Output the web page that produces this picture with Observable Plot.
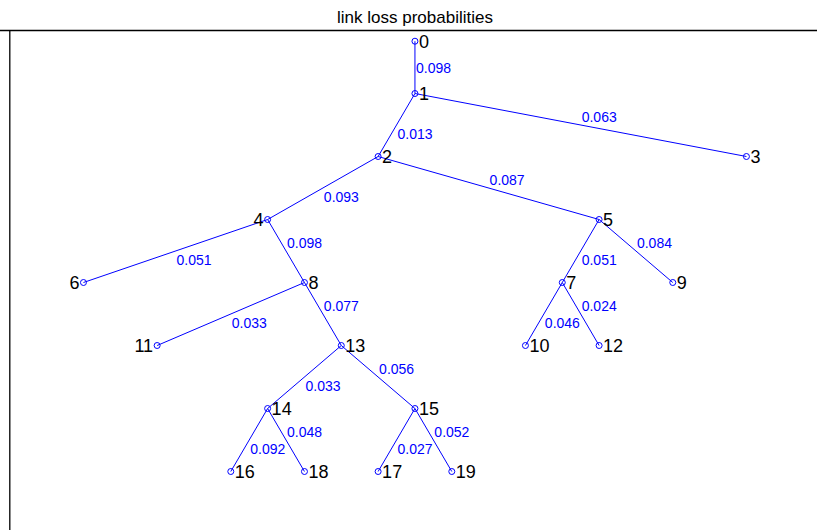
<!DOCTYPE html>
<html><head><meta charset="utf-8">
<script src="https://cdn.jsdelivr.net/npm/d3@7"></script>
<script src="https://cdn.jsdelivr.net/npm/@observablehq/plot@0.6"></script>
<style>
body{margin:0;background:#fff;overflow:hidden;font-family:"Liberation Sans",Arial,Helvetica,sans-serif;}
#title{position:absolute;top:8px;left:0;width:817px;padding-left:13px;box-sizing:border-box;text-align:center;font-size:17px;line-height:normal;color:#000;}
#chart{position:absolute;top:30px;left:0;}
</style></head><body>
<div id="title">link loss probabilities</div>
<div id="chart"></div>
<script>
// Tree nodes: horizontal slot and depth level
const nodeIds    = [0, 1, 2, 3, 4, 5, 6, 7, 8, 9, 10, 11, 12, 13, 14, 15, 16, 17, 18, 19];
const nodeX      = [9, 9, 8, 18, 5, 14, 0, 13, 6, 16, 12, 2, 14, 7, 5, 9, 4, 8, 6, 10];
const nodeLevel  = [0.17, 1, 2, 2, 3, 3, 4, 4, 4, 4, 5, 5, 5, 5, 6, 6, 7, 7, 7, 7];
const leftLabelNodes = [4, 6, 11];

// Links (parent -> child) and link loss probabilities
const edgeParent = [0, 1, 1, 2, 2, 4, 4, 8, 8, 13, 13, 5, 5, 7, 7, 14, 14, 15, 15];
const edgeChild  = [1, 2, 3, 4, 5, 6, 8, 11, 13, 14, 15, 7, 9, 10, 12, 16, 18, 17, 19];
const edgeLoss   = [0.098, 0.013, 0.063, 0.093, 0.087, 0.051, 0.098, 0.033, 0.077, 0.033, 0.056, 0.051, 0.084, 0.046, 0.024, 0.092, 0.048, 0.027, 0.052];

const nodes = nodeIds.map((id, i) => ({id, x: nodeX[i], y: nodeLevel[i], left: leftLabelNodes.includes(id)}));
const edges = edgeParent.map((p, i) => {
  const c = edgeChild[i];
  const x1 = nodeX[p], y1 = nodeLevel[p], x2 = nodeX[c], y2 = nodeLevel[c];
  return {x1, y1, x2, y2, xm: (x1 + x2) / 2, ym: (y1 + y2) / 2, loss: edgeLoss[i],
          dir: x2 < x1 ? "left" : x2 > x1 ? "right" : "down"};
});

const blue = "#0000ff";
const font = "'Liberation Sans', Arial, Helvetica, sans-serif";
const lossText = (dir, dy) => Plot.text(edges.filter(e => e.dir === dir), {
  x: "xm", y: "ym", text: d => d.loss.toFixed(3), fill: blue, fontSize: 14,
  textAnchor: "start", dx: 1, dy
});

const chart = Plot.plot({
  width: 817, height: 500,
  marginLeft: 0, marginRight: 0, marginTop: 0, marginBottom: 0,
  style: {fontFamily: font, background: "#fff", overflow: "visible"},
  x: {domain: [-2, 20], range: [9.3, 819.6], axis: null},
  y: {domain: [0, 8], range: [0, 504], axis: null},
  marks: [
    Plot.ruleX([-2], {stroke: "#000", strokeWidth: 1.3}),
    Plot.ruleY([0], {stroke: "#000", strokeWidth: 1.3}),
    Plot.link(edges, {x1: "x1", y1: "y1", x2: "x2", y2: "y2", stroke: blue, strokeWidth: 1}),
    Plot.dot(nodes, {x: "x", y: "y", r: 3, stroke: blue, strokeWidth: 1, fill: "none"}),
    lossText("left", 10),
    lossText("right", -7),
    lossText("down", 1),
    Plot.text(nodes.filter(d => !d.left), {x: "x", y: "y", text: d => String(d.id), fill: "#000", fontSize: 18, textAnchor: "start", dx: 4, dy: 1}),
    Plot.text(nodes.filter(d => d.left), {x: "x", y: "y", text: d => String(d.id), fill: "#000", fontSize: 18, textAnchor: "end", dx: -4, dy: 1})
  ]
});
document.getElementById("chart").appendChild(chart);
</script>
</body></html>
